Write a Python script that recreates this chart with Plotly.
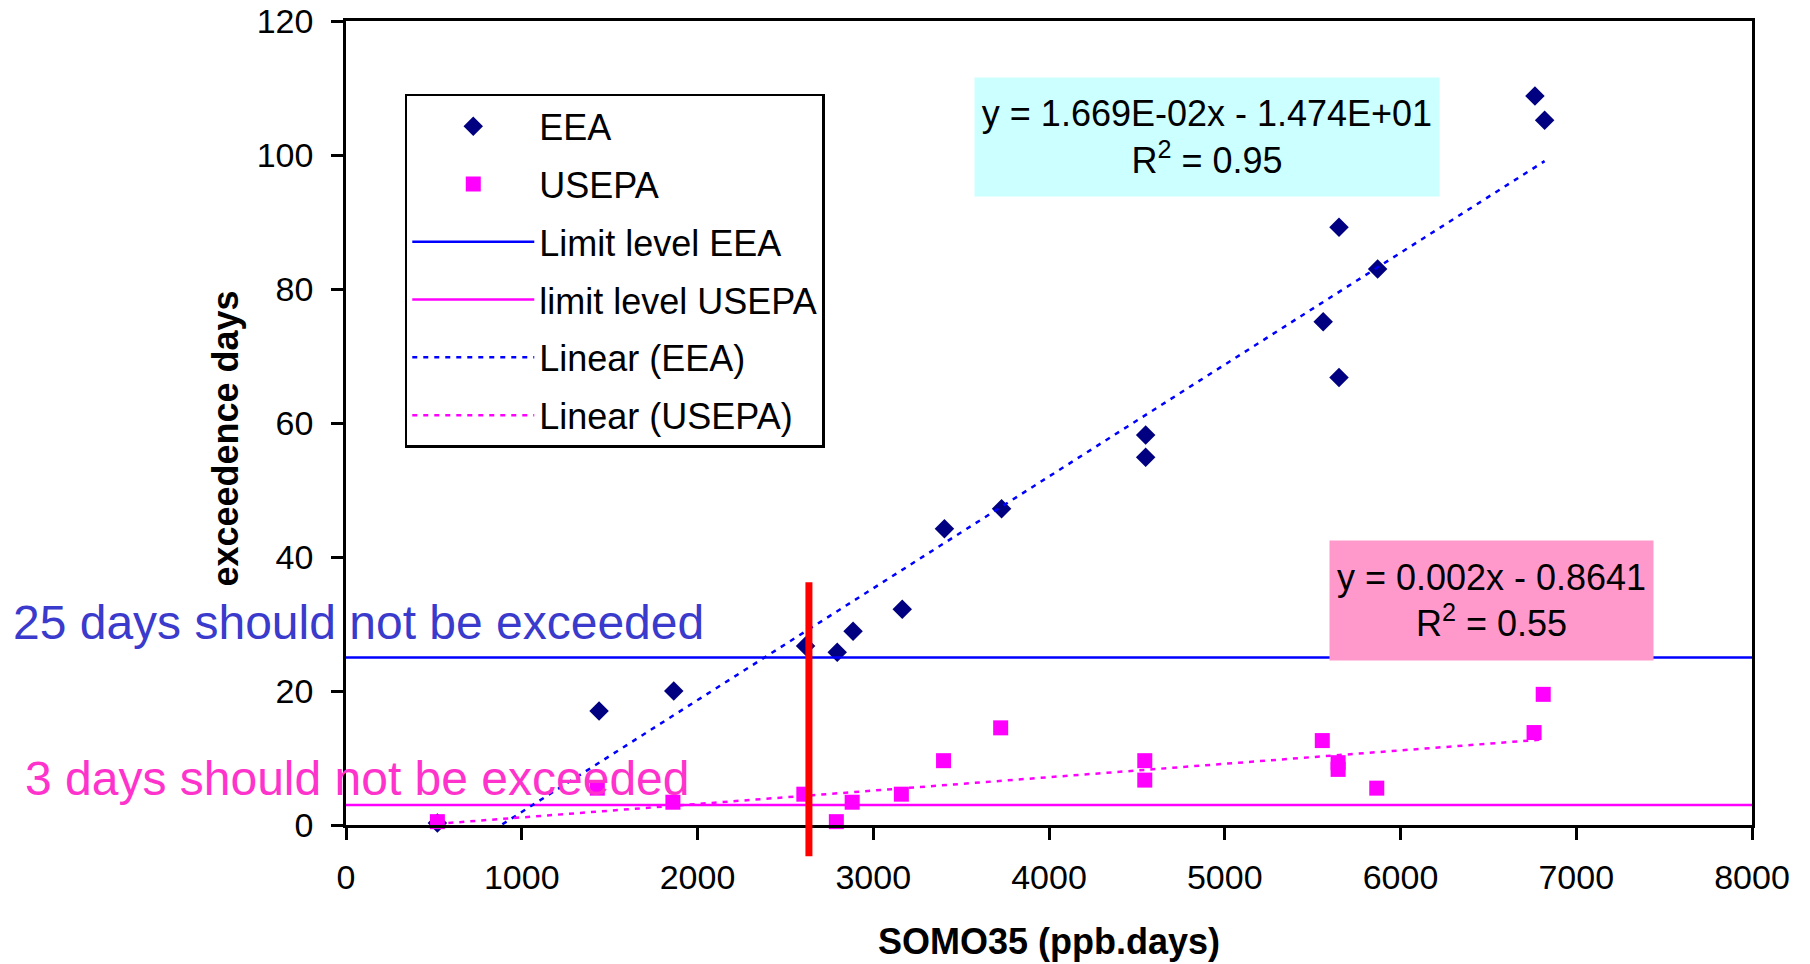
import plotly.graph_objects as go

# ---- data ----
somo35 = [520, 1440, 1865, 2615, 2795, 2885, 3165, 3405, 3730, 4550, 4550,
          5560, 5650, 5650, 5870, 6765, 6820]
eea_days = [0.3, 17.0, 20.0, 26.7, 25.8, 28.9, 32.2, 44.2, 47.2, 54.9, 58.2,
            75.1, 66.8, 89.2, 83.0, 108.8, 105.2]
somo35_usepa = [520, 1430, 1860, 2605, 2790, 2880, 3160, 3400, 3725, 4545, 4545,
                5555, 5645, 5645, 5865, 6760, 6812]
usepa_days = [0.5, 5.5, 3.4, 4.6, 0.5, 3.4, 4.6, 9.6, 14.5, 9.6, 6.7,
              12.6, 9.3, 8.3, 5.5, 13.8, 19.5]

limit_eea = 25
limit_usepa = 3
x_axis_range = [0, 8000]
y_axis_range = [0, 120]

# trend line coefficients as printed on the chart
eea_slope, eea_intercept = 1.669e-02, -1.474e+01
usepa_slope, usepa_intercept = 0.002, -0.8641

red_marker_x = 2634

FONT = "Liberation Sans, Arial, sans-serif"

def trend(xs, slope, intercept):
    xa = [min(xs), max(xs)]
    return xa, [slope * v + intercept for v in xa]

fig = go.Figure()

fig.add_trace(go.Scatter(
    x=somo35, y=eea_days, mode="markers", name="EEA",
    marker=dict(symbol="diamond", size=15, color="#000080"),
    cliponaxis=False, legendgroup="a"))
fig.add_trace(go.Scatter(
    x=somo35_usepa, y=usepa_days, mode="markers", name="USEPA",
    marker=dict(symbol="square", size=15, color="#FF00FF"),
    cliponaxis=False, legendgroup="b"))
fig.add_trace(go.Scatter(
    x=x_axis_range, y=[limit_eea, limit_eea], mode="lines", name="Limit level EEA",
    line=dict(color="#0000FF", width=2.5), legendgroup="c"))
fig.add_trace(go.Scatter(
    x=x_axis_range, y=[limit_usepa, limit_usepa], mode="lines", name="limit level USEPA",
    line=dict(color="#FF00FF", width=2.5), legendgroup="d"))
tx, ty = trend(somo35, eea_slope, eea_intercept)
fig.add_trace(go.Scatter(
    x=tx, y=ty, mode="lines", name="Linear (EEA)",
    line=dict(color="#0000FF", width=2.5, dash="5px,6px"), legendgroup="e"))
tx, ty = trend(somo35_usepa, usepa_slope, usepa_intercept)
fig.add_trace(go.Scatter(
    x=tx, y=ty, mode="lines", name="Linear (USEPA)",
    line=dict(color="#FF00FF", width=2.5, dash="5px,6px"), legendgroup="f"))

# red vertical marker line
fig.add_shape(type="line", xref="x", yref="paper",
              x0=red_marker_x, x1=red_marker_x, y0=-0.039, y1=0.302,
              line=dict(color="#FF0000", width=7))

annos = [
    dict(x=4898, y=102.7, xref="x", yref="y",
         text="y = 1.669E-02x - 1.474E+01<br>R<sup>2</sup> = 0.95",
         bgcolor="#CCFFFF", width=464, height=118, borderpad=0,
         font=dict(size=36, color="black", family=FONT), showarrow=False, align="center"),
    dict(x=6517, y=33.5, xref="x", yref="y",
         text="y = 0.002x - 0.8641<br>R<sup>2</sup> = 0.55",
         bgcolor="#FF99CC", width=323, height=119, borderpad=0,
         font=dict(size=36, color="black", family=FONT), showarrow=False, align="center"),
    dict(x=-0.238, y=30.2, xref="paper", yref="y", xanchor="left", yanchor="middle",
         text="25 days should not be exceeded",
         font=dict(size=48, color="#3A3ACC", family=FONT), showarrow=False),
    dict(x=-0.230, y=6.9, xref="paper", yref="y", xanchor="left", yanchor="middle",
         text="3 days should not be exceeded",
         font=dict(size=48, color="#FF33CC", family=FONT), showarrow=False),
    dict(x=-0.0860, y=0.4807, xref="paper", yref="paper", xanchor="center", yanchor="middle",
         text="<b>exceedence days</b>", textangle=-90,
         font=dict(size=36, color="black", family=FONT), showarrow=False),
]
for a in annos:
    fig.add_annotation(**a)

axis_common = dict(
    showgrid=False, zeroline=False, showline=True, linecolor="black", linewidth=2.5,
    mirror=True, ticks="outside", ticklen=12, tickwidth=2.5, tickcolor="black",
    tickfont=dict(size=34, color="black", family=FONT), automargin=False,
)
fig.update_xaxes(range=x_axis_range, dtick=1000, tick0=0, ticklabelstandoff=8,
                 title=dict(text="<b>SOMO35 (ppb.days)</b>", standoff=35,
                            font=dict(size=36, color="black", family=FONT)),
                 **axis_common)
fig.update_yaxes(range=y_axis_range, dtick=20, tick0=0, ticklabelstandoff=11,
                 **axis_common)

fig.update_layout(
    width=1810, height=964,
    margin=dict(l=346, r=58, t=21, b=139),
    plot_bgcolor="white", paper_bgcolor="white",
    font=dict(family=FONT, color="black"),
    legend=dict(x=0.0418, y=0.9095, xanchor="left", yanchor="top",
                bgcolor="white", bordercolor="black", borderwidth=2.5,
                font=dict(size=36, color="black", family=FONT),
                itemwidth=122, tracegroupgap=8, traceorder="grouped"),
)

fig.write_html("out.html")
